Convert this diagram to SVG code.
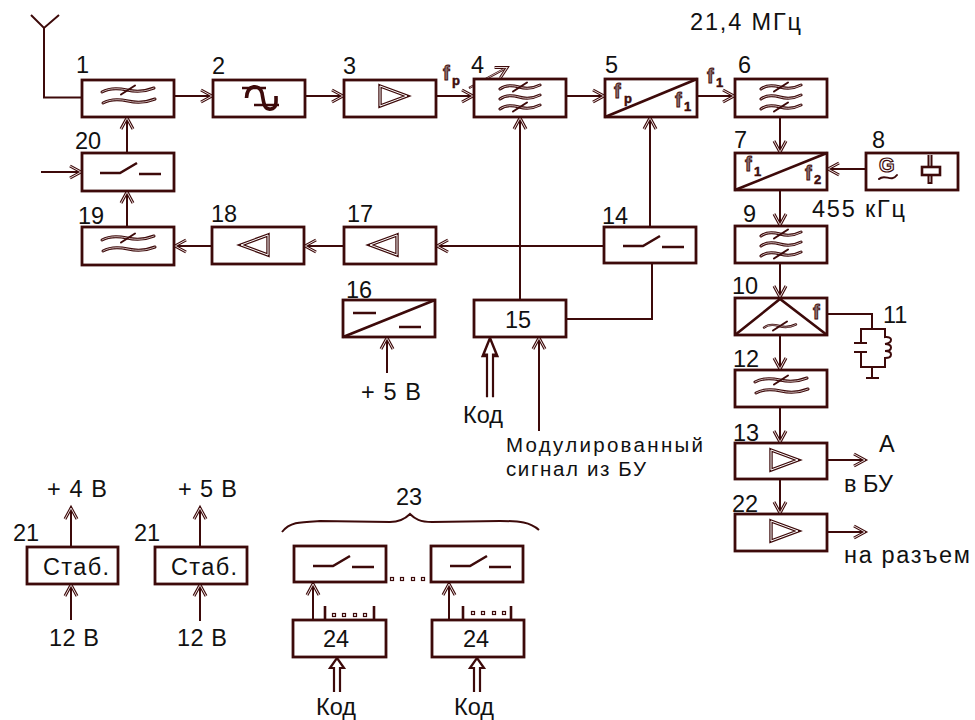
<svg xmlns="http://www.w3.org/2000/svg" width="975" height="720" viewBox="0 0 975 720">
<style>
.b{fill:#fff;stroke:#3d0a0a;stroke-width:2.8}
.c{fill:none;stroke:#3d0a0a;stroke-width:2}
.a{marker-end:url(#arr)}
.l{fill:none;stroke:#3d0a0a;stroke-width:2.6}
.o{fill:none;stroke:#3d0a0a;stroke-width:3;stroke-linecap:round}
.x{fill:none;stroke:#3d0a0a;stroke-width:2;stroke-linecap:round}
.i{fill:none;stroke:#e8dcdc;stroke-width:.8;stroke-linecap:round}
.t{font-family:"Liberation Sans",Arial,sans-serif;font-size:23.5px;fill:#111}
.m{font-family:"Liberation Sans",Arial,sans-serif;font-size:20.5px;fill:#111}
.f{font-family:"Liberation Sans",Arial,sans-serif;font-size:20px;font-weight:bold;fill:#8a7070;stroke:#3d0a0a;stroke-width:.9;opacity:.99}
.g{font-family:"Liberation Sans",Arial,sans-serif;font-size:20px;font-weight:bold;fill:#fff;stroke:#3d0a0a;stroke-width:1.2;opacity:.99}
.s{font-family:"Liberation Sans",Arial,sans-serif;font-size:13px;font-weight:bold;fill:#3d0a0a;stroke:#3d0a0a;stroke-width:.5;opacity:.99}
.d{fill:#fff;stroke:#3d0a0a;stroke-width:1.2}
</style>
<defs>
<marker id="arr" markerUnits="userSpaceOnUse" markerWidth="16" markerHeight="16" refX="13" refY="8" orient="auto">
<path d="M1,2 L12,8 L1,14" fill="none" stroke="#3d0a0a" stroke-width="3"/>
<path d="M1,2 L12,8 L1,14" fill="none" stroke="#e8dcdc" stroke-width="1"/>
</marker>
<path id="w" d="M-20,2 C-15,-2 -8,-2 -1,0 S12,2 20,-2"/>
<path id="w2" d="M-26,2 C-19,-2 -10,-2 -1,0 S16,2 26,-2"/>
<path id="sl" d="M-7,4.500 L7,-4.500"/>
<g id="f2">
<use href="#w2" y="-8" class="o"/><use href="#w2" y="-8" class="i"/>
<use href="#w2" y="3" x="1" class="o"/><use href="#w2" y="3" x="1" class="i"/>
<use href="#sl" y="-8" class="x"/>
</g>
<g id="f3">
<use href="#w" y="-11" class="o"/><use href="#w" y="-11" class="i"/>
<use href="#w" y="-1" class="o"/><use href="#w" y="-1" class="i"/>
<use href="#w" y="9" class="o"/><use href="#w" y="9" class="i"/>
<use href="#sl" y="-11" class="x"/><use href="#sl" y="9" class="x"/>
</g>
<g id="sw"><path d="M-27,1 H-7 L10,-9 M12,2 H34" class="l"/></g>
<path id="tr" d="M0,-10 L27,0 L0,10 Z"/>
<g id="ampr"><use href="#tr" style="fill:none;stroke:#3d0a0a;stroke-width:3.4"/><use href="#tr" style="fill:none;stroke:#fff;stroke-width:1"/></g>
<g id="ampl"><use href="#tr" transform="scale(-1,1)" style="fill:none;stroke:#3d0a0a;stroke-width:3.4"/><use href="#tr" transform="scale(-1,1)" style="fill:none;stroke:#fff;stroke-width:1"/></g>
<path id="dbl" d="M-3,34 V10 H-7 L0,0 L7,10 H3 V34" fill="none" stroke="#3d0a0a" stroke-width="2.2"/>
</defs>

<g id="connectors">
<path class="c" d="M31,15 L44,28 L59,15 M44,28 V97.500 H82"/>
<line class="c a" x1="174" y1="96" x2="213" y2="96"/>
<line class="c a" x1="305" y1="96" x2="344" y2="96"/>
<line class="c a" x1="436" y1="96" x2="474" y2="96"/>
<line class="c a" x1="566" y1="96" x2="605" y2="96"/>
<line class="c a" x1="697" y1="96" x2="735" y2="96"/>
<line class="c a" x1="780" y1="117" x2="780" y2="153"/>
<line class="c a" x1="866" y1="169" x2="827" y2="169"/>
<line class="c a" x1="780" y1="190" x2="780" y2="226"/>
<line class="c a" x1="780" y1="263" x2="780" y2="298"/>
<line class="c a" x1="780" y1="335" x2="780" y2="370"/>
<line class="c a" x1="780" y1="407" x2="780" y2="443"/>
<line class="c a" x1="780" y1="479" x2="780" y2="514"/>
<line class="c a" x1="827" y1="460" x2="866" y2="460"/>
<line class="c a" x1="827" y1="532" x2="866" y2="532"/>
<path class="c" d="M827,314 H872 V329"/>
<line class="c a" x1="127" y1="153" x2="127" y2="117"/>
<line class="c a" x1="127" y1="227" x2="127" y2="191"/>
<line class="c a" x1="212" y1="246" x2="174" y2="246"/>
<line class="c a" x1="344" y1="246" x2="304" y2="246"/>
<line class="c a" x1="604" y1="246" x2="436" y2="246"/>
<line class="c a" x1="520" y1="300" x2="520" y2="117"/>
<line class="c a" x1="650" y1="227" x2="650" y2="117"/>
<path class="c" d="M652,263 V319 H566"/>
<line class="c a" x1="41" y1="172" x2="82" y2="172"/>
<line class="c a" x1="469" y1="88" x2="508" y2="67"/>
<line class="i" x1="470" y1="87.500" x2="504" y2="69"/>
<line class="c a" x1="387" y1="373" x2="387" y2="337"/>
<line class="c a" x1="539" y1="431" x2="539" y2="337"/>
<use href="#dbl" transform="translate(490,338) scale(1,1.74)"/>
<use href="#dbl" transform="translate(337,658)"/>
<use href="#dbl" transform="translate(477,658)"/>
<line class="c a" x1="313" y1="620" x2="313" y2="583"/>
<line class="c a" x1="449" y1="620" x2="449" y2="583"/>
<line class="c a" x1="71" y1="547" x2="71" y2="507"/>
<line class="c a" x1="71" y1="620" x2="71" y2="584"/>
<line class="c a" x1="200" y1="547" x2="200" y2="507"/>
<line class="c a" x1="200" y1="621" x2="200" y2="584"/>
</g>

<g id="n1"><rect class="b" x="82" y="80" width="92" height="37"/><use href="#f2" x="128" y="98"/><text class="t" x="76" y="73">1</text></g>
<g id="n2"><rect class="b" x="213" y="80" width="92" height="37"/><path d="M242,88 H266 M254,105 H279" class="l"/><path d="M246.500,98 C247,84 260,84 262,93 C264,104 264,110 271,109 C277,108 276,102 276,96" fill="none" stroke="#3d0a0a" stroke-width="3.6"/><text class="t" x="212" y="74">2</text></g>
<g id="n3"><rect class="b" x="344" y="80" width="92" height="37"/><use href="#ampr" x="380" y="96"/><text class="t" x="343" y="74">3</text></g>
<g id="n4"><rect class="b" x="474" y="79" width="92" height="38"/><use href="#f3" x="520" y="98"/><text class="t" x="471" y="73">4</text></g>
<g id="n5"><rect class="b" x="605" y="79" width="92" height="38"/><path class="l" d="M605,117 L697,79"/><text class="f" x="614" y="98">f</text><text class="s" x="624" y="103">p</text><text class="f" x="675" y="107">f</text><text class="s" x="684" y="111">1</text><text class="t" x="605" y="73">5</text></g>
<g id="n6"><rect class="b" x="735" y="79" width="92" height="38"/><use href="#f3" x="781" y="98"/><text class="t" x="738" y="73">6</text></g>
<g id="n7"><rect class="b" x="735" y="153" width="92" height="37"/><path class="l" d="M735,190 L827,153"/><text class="f" x="745" y="171">f</text><text class="s" x="754" y="176">1</text><text class="f" x="805" y="180">f</text><text class="s" x="814" y="184">2</text><text class="t" x="734" y="148">7</text></g>
<g id="n8"><rect class="b" x="866" y="153" width="92" height="37"/><text class="g" x="879" y="172">G</text><path class="x" d="M879,179 C885,173 891,183 897,175"/><path class="c" d="M928.500,155 V167 M931.500,155 V167 M928.500,175 V183 H931.500 V175"/><rect x="922" y="167" width="18" height="8" fill="#fff" stroke="#3d0a0a" stroke-width="2.6"/><text class="t" x="872" y="148">8</text></g>
<g id="n9"><rect class="b" x="735" y="226" width="92" height="37"/><use href="#f3" x="781" y="245"/><text class="t" x="743" y="222">9</text></g>
<g id="n10"><rect class="b" x="735" y="298" width="92" height="37"/><path class="l" d="M735,335 L780,299 L827,335"/><use href="#w" class="o" transform="translate(780,326) scale(.8)"/><use href="#w" class="i" transform="translate(780,326) scale(.8)"/><use href="#sl" class="x" transform="translate(780,326)"/><text class="f" x="813" y="319">f</text><text class="t" x="732" y="294">10</text></g>
<g id="n11"><path class="c" stroke-width="2.2" d="M861,343 V329 H885 V337 C893,336 893,343 885,344 C893,344 893,351 885,351 C893,351 893,358 885,358 V367 H861 V352 M854,343 H867 M854,352 H867 M872,367 V378 M866,378 H879"/><text class="t" x="883" y="323">11</text></g>
<g id="n12"><rect class="b" x="735" y="370" width="92" height="37"/><use href="#f2" x="781" y="388"/><text class="t" x="733" y="367">12</text></g>
<g id="n13"><rect class="b" x="735" y="443" width="92" height="36"/><use href="#ampr" x="771" y="460"/><text class="t" x="733" y="441">13</text><text class="t" x="879" y="452">А</text><text class="t" x="844" y="492">в БУ</text></g>
<g id="n14"><rect class="b" x="604" y="227" width="92" height="36"/><use href="#sw" x="650" y="245"/><text class="t" x="602" y="224">14</text></g>
<g id="n15"><rect class="b" x="474" y="300" width="92" height="37"/><text class="t" x="505" y="328">15</text></g>
<g id="n16"><rect class="b" x="343" y="300" width="92" height="37"/><path class="l" d="M343,337 L435,300 M353,313 H376 M399,327 H421"/><text class="t" x="346" y="298">16</text></g>
<g id="n17"><rect class="b" x="344" y="227" width="92" height="37"/><use href="#ampl" x="397" y="245"/><text class="t" x="347" y="222">17</text></g>
<g id="n18"><rect class="b" x="212" y="227" width="92" height="37"/><use href="#ampl" x="268" y="245"/><text class="t" x="211" y="222">18</text></g>
<g id="n19"><rect class="b" x="82" y="227" width="92" height="38"/><use href="#f2" x="128" y="246"/><text class="t" x="78" y="224">19</text></g>
<g id="n20"><rect class="b" x="82" y="153" width="92" height="38"/><use href="#sw" x="127" y="172"/><text class="t" x="75" y="149">20</text></g>
<g id="n21a"><rect class="b" x="27" y="547" width="91" height="37"/><text class="t" x="43" y="575" textLength="66">Стаб.</text><text class="t" x="13" y="541">21</text></g>
<g id="n21b"><rect class="b" x="155" y="547" width="92" height="37"/><text class="t" x="171" y="575" textLength="66">Стаб.</text><text class="t" x="134" y="541">21</text></g>
<g id="n22"><rect class="b" x="735" y="514" width="92" height="37"/><use href="#ampr" x="771" y="531"/><text class="t" x="732" y="512">22</text></g>
<g id="n23a"><rect class="b" x="294" y="546" width="92" height="36"/><use href="#sw" x="340" y="565"/></g>
<g id="n23b"><rect class="b" x="431" y="546" width="92" height="36"/><use href="#sw" x="477" y="565"/></g>
<g id="n24a"><rect class="b" x="293" y="620" width="93" height="37"/><path class="l" d="M325,606 V620 M374,606 V620"/><text class="t" x="323" y="647">24</text></g>
<g id="n24b"><rect class="b" x="432" y="620" width="92" height="37"/><path class="l" d="M463,606 V620 M511,606 V620"/><text class="t" x="463" y="647">24</text></g>
<g id="dots">
<rect class="d" x="390.500" y="577.500" width="3" height="3"/><rect class="d" x="400.500" y="577.500" width="3" height="3"/><rect class="d" x="411.500" y="577.500" width="3" height="3"/><rect class="d" x="421.500" y="577.500" width="3" height="3"/>
<rect class="d" x="332.500" y="613.500" width="3" height="3"/><rect class="d" x="342.500" y="613.500" width="3" height="3"/><rect class="d" x="353.500" y="613.500" width="3" height="3"/><rect class="d" x="363.500" y="613.500" width="3" height="3"/>
<rect class="d" x="471.500" y="611.500" width="3" height="3"/><rect class="d" x="481.500" y="611.500" width="3" height="3"/><rect class="d" x="492.500" y="611.500" width="3" height="3"/><rect class="d" x="502.500" y="611.500" width="3" height="3"/>
</g>
<g id="brace"><path class="c" d="M282,532 C290,522 300,522 320,521 L390,522 C400,522 405,519 410,514 C415,519 420,522 432,522 L500,521 C520,521 530,522 539,530"/><text class="t" x="396" y="505">23</text></g>
<g id="labels">
<text class="f" x="443" y="80">f</text><text class="s" x="452" y="85">p</text>
<text class="f" x="707" y="83">f</text><text class="s" x="716" y="87">1</text>
<text class="t" x="690" y="30" textLength="111">21,4 МГц</text>
<text class="t" x="812" y="217" textLength="93">455 кГц</text>
<text class="t" x="361" y="400" textLength="60">+ 5 В</text>
<text class="t" x="463" y="423">Код</text>
<text class="m" x="506" y="452" textLength="197">Модулированный</text>
<text class="m" x="506" y="476" textLength="140">сигнал из БУ</text>
<text class="t" x="844" y="563" textLength="126">на разъем</text>
<text class="t" x="47" y="497" textLength="60">+ 4 В</text>
<text class="t" x="178" y="497" textLength="59">+ 5 В</text>
<text class="t" x="49" y="646" textLength="50">12 В</text>
<text class="t" x="177" y="646" textLength="50">12 В</text>
<text class="t" x="316" y="715">Код</text>
<text class="t" x="454" y="715">Код</text>
</g>
</svg>
